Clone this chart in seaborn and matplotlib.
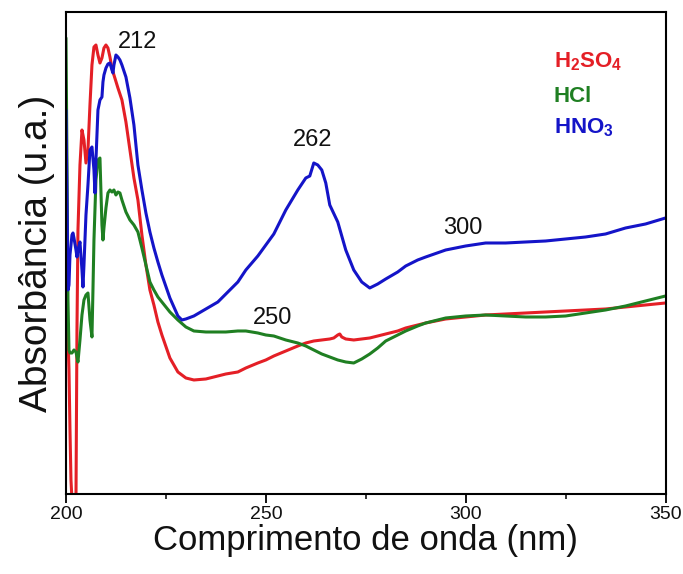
import matplotlib
matplotlib.use("Agg")
import matplotlib.pyplot as plt
import seaborn as sns
import pandas as pd

# UV-Vis spectra (absorbance in arbitrary units) for the three acid treatments
wl_h2so4 = [200, 200.25, 200.5, 200.75, 201, 201.25, 201.5, 202, 202.5, 202.75,
            203, 203.5, 204, 204.5, 205, 205.5, 206, 206.5, 207, 207.5,
            208, 208.5, 209, 209.5, 210, 210.5, 211, 211.5, 212, 213,
            214, 215, 216, 217, 218, 219, 220, 221, 222, 223,
            224, 226, 228, 230, 232, 235, 238, 240, 243, 245,
            248, 250, 252, 255, 258, 260, 262, 264, 266, 267,
            268, 268.5, 269, 270, 272, 274, 276, 278, 280, 283,
            285, 288, 290, 295, 300, 305, 310, 315, 320, 325,
            330, 335, 340, 345, 350]
abs_h2so4 = [0.172, 0.169, 0.159, 0.124, 0.064, 0.014, -0.006, -0.006, -0.006, 0.164,
             0.264, 0.329, 0.364, 0.354, 0.331, 0.344, 0.389, 0.429, 0.447, 0.449,
             0.439, 0.431, 0.436, 0.446, 0.449, 0.446, 0.437, 0.426, 0.419, 0.406,
             0.394, 0.372, 0.344, 0.316, 0.294, 0.259, 0.229, 0.204, 0.189, 0.172,
             0.159, 0.136, 0.122, 0.116, 0.114, 0.115, 0.118, 0.120, 0.122, 0.126,
             0.131, 0.134, 0.138, 0.143, 0.148, 0.151, 0.153, 0.154, 0.155, 0.156,
             0.159, 0.160, 0.157, 0.155, 0.154, 0.155, 0.156, 0.158, 0.160, 0.163,
             0.166, 0.169, 0.171, 0.175, 0.177, 0.179, 0.180, 0.181, 0.182, 0.183,
             0.184, 0.185, 0.187, 0.189, 0.191]

wl_hcl = [200, 200.25, 200.5, 200.75, 201, 201.5, 202, 202.5, 203, 203.5,
          204, 204.5, 205, 205.5, 206, 206.5, 206.75, 207, 207.5, 208,
          208.5, 209, 209.25, 209.5, 210, 210.5, 211, 211.5, 212, 212.5,
          213, 213.5, 214, 215, 216, 217, 218, 219, 220, 221,
          222, 223, 224, 226, 228, 230, 232, 235, 238, 240,
          243, 245, 248, 250, 252, 255, 258, 260, 262, 264,
          266, 268, 270, 272, 274, 276, 278, 280, 283, 285,
          288, 290, 295, 300, 305, 310, 315, 320, 325, 330,
          335, 340, 345, 350]
abs_hcl = [0.456, 0.334, 0.194, 0.144, 0.141, 0.141, 0.144, 0.142, 0.132, 0.154,
           0.179, 0.194, 0.199, 0.201, 0.174, 0.157, 0.204, 0.254, 0.314, 0.334,
           0.336, 0.269, 0.254, 0.266, 0.286, 0.301, 0.304, 0.302, 0.304, 0.299,
           0.302, 0.301, 0.294, 0.282, 0.274, 0.269, 0.262, 0.246, 0.229, 0.212,
           0.204, 0.197, 0.192, 0.182, 0.174, 0.167, 0.163, 0.162, 0.162, 0.162,
           0.163, 0.163, 0.161, 0.159, 0.158, 0.154, 0.151, 0.148, 0.144, 0.140,
           0.137, 0.134, 0.132, 0.131, 0.135, 0.140, 0.146, 0.153, 0.159, 0.163,
           0.168, 0.171, 0.176, 0.178, 0.179, 0.178, 0.177, 0.177, 0.178, 0.181,
           0.184, 0.188, 0.193, 0.198]

wl_hno3 = [200, 200.25, 200.5, 200.75, 201, 201.5, 201.75, 202, 202.5, 202.75,
           203, 203.5, 204, 204.25, 204.5, 205, 205.5, 206, 206.5, 207,
           207.25, 207.5, 208, 208.5, 209, 209.25, 209.5, 210, 210.5, 211,
           211.5, 211.75, 212, 212.5, 213, 213.5, 214, 215, 216, 217,
           218, 219, 220, 221, 222, 223, 224, 226, 228, 229,
           230, 232, 235, 238, 240, 243, 245, 248, 250, 252,
           255, 258, 260, 261, 262, 263, 264, 265, 266, 268,
           270, 272, 274, 276, 278, 280, 283, 285, 288, 290,
           295, 300, 305, 310, 315, 320, 325, 330, 335, 340,
           345, 350]
abs_hno3 = [0.384, 0.294, 0.204, 0.209, 0.239, 0.259, 0.261, 0.256, 0.244, 0.237,
            0.244, 0.252, 0.224, 0.207, 0.229, 0.279, 0.309, 0.344, 0.347, 0.324,
            0.301, 0.334, 0.384, 0.394, 0.397, 0.412, 0.419, 0.426, 0.430, 0.431,
            0.424, 0.421, 0.429, 0.439, 0.437, 0.434, 0.429, 0.417, 0.396, 0.369,
            0.329, 0.304, 0.281, 0.262, 0.246, 0.232, 0.219, 0.196, 0.178, 0.174,
            0.175, 0.178, 0.185, 0.192, 0.200, 0.212, 0.224, 0.238, 0.249, 0.260,
            0.284, 0.304, 0.316, 0.318, 0.331, 0.329, 0.324, 0.311, 0.289, 0.272,
            0.244, 0.224, 0.212, 0.206, 0.210, 0.215, 0.222, 0.228, 0.234, 0.237,
            0.244, 0.248, 0.251, 0.251, 0.252, 0.253, 0.255, 0.257, 0.260, 0.266,
            0.270, 0.276]

labels = ["H$_\\mathregular{2}$SO$_\\mathregular{4}$", "HCl", "HNO$_\\mathregular{3}$"]
colors = ["#e41f26", "#1f7f22", "#1414c8"]
peak_labels = ["212", "262", "250", "300"]
peak_pos = [(218.0, 0.452), (261.6, 0.354), (251.8, 0.176), (299.2, 0.266)]

sns.set_theme(style="white")
plt.rcParams["font.family"] = ["Liberation Sans", "DejaVu Sans"]
plt.rcParams["mathtext.default"] = "regular"

fig = plt.figure(figsize=(6.83, 5.74), dpi=100)
ax = fig.add_axes([0.0966, 0.1394, 0.8778, 0.8397])

series = [(wl_h2so4, abs_h2so4), (wl_hcl, abs_hcl), (wl_hno3, abs_hno3)]
for (wl, ab), col in zip(series, colors):
    df = pd.DataFrame({"wl": wl, "abs": ab})
    sns.lineplot(data=df, x="wl", y="abs", ax=ax, color=col, linewidth=2.2,
                 estimator=None, sort=False)

ax.set_xlim(200, 350)
ax.set_ylim(0, 0.482)
ax.set_xticks([200, 250, 300, 350])
ax.set_xticks([225, 275, 325], minor=True)
ax.set_yticks([])
ax.tick_params(axis="x", which="major", direction="out", length=6.5, width=1.3,
               labelsize=14, pad=2, color="black", labelcolor="#111111", bottom=True)
ax.tick_params(axis="x", which="minor", direction="out", length=3.5, width=1.3,
               bottom=True)
for sp in ax.spines.values():
    sp.set_visible(True)
    sp.set_color("black")
    sp.set_linewidth(1.5)

ax.set_xlabel("Comprimento de onda (nm)", fontsize=25, labelpad=1, color="#111111")
ax.set_ylabel("Absorbância (u.a.)", fontsize=28, labelpad=8, color="#111111")

for txt, (x, y) in zip(peak_labels, peak_pos):
    ax.text(x, y, txt, fontsize=17, ha="center", va="center", color="#111111")

leg_y = [0.432, 0.397, 0.366]
for lab, col, y in zip(labels, colors, leg_y):
    ax.text(322.0, y, lab, fontsize=16, fontweight="bold", color=col,
            ha="left", va="center")

fig.savefig("out.png", dpi=100)
